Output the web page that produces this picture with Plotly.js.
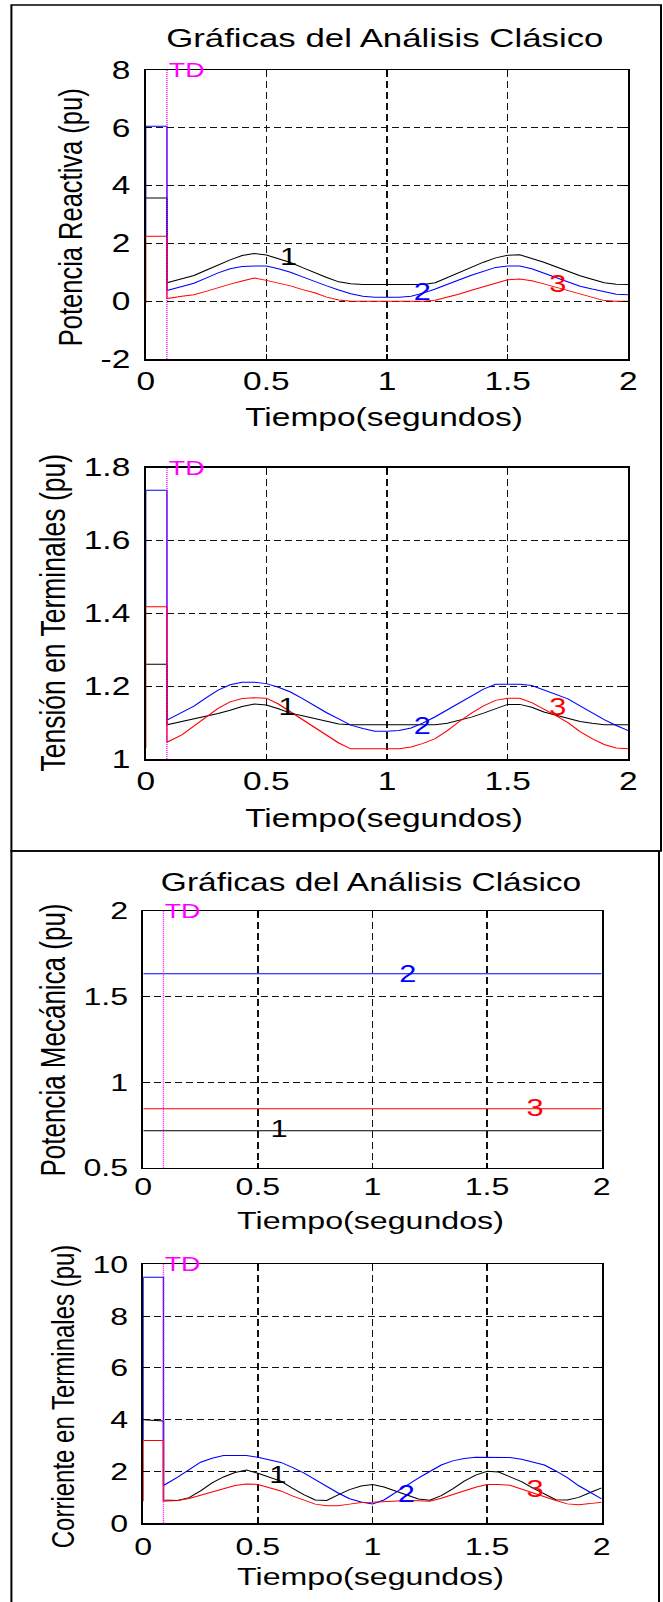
<!DOCTYPE html>
<html><head><meta charset="utf-8">
<script src="https://cdn.plot.ly/plotly-3.0.1.min.js"></script>
<style>
html,body{margin:0;padding:0;background:#fff;overflow:hidden;}
#wrap{width:663px;height:1602px;overflow:hidden;position:relative;}
#chart{width:495px;height:1602px;transform:scaleX(1.339394);transform-origin:0 0;}
</style></head><body><div id="wrap"><div id="chart"></div></div>
<script>
// ---- data ----
const tFault = 0.088;
const tPre = [0, 0, 0.088];
const tPost = [0.088,0.15,0.2,0.25,0.3,0.35,0.4,0.45,0.5,0.55,0.6,0.65,0.7,0.75,0.8,0.85,0.9,0.95,1.0,1.05,1.1,1.15,1.2,1.25,1.3,1.35,1.4,1.45,1.5,1.55,1.6,1.65,1.7,1.75,1.8,1.85,1.9,1.95,2.0];
const xTicks = [0, 0.5, 1, 1.5, 2];
const xTickText = ['0', '0.5', '1', '1.5', '2'];

// Potencia Reactiva
const qBlackPre = [3.57, 3.57, 3.57];
const qBluePre  = [2.25, 6.05, 6.05];
const qRedPre   = [-0.05, 2.25, 2.25];
const qBlackPost = [0.64,0.78,0.89,1.07,1.26,1.43,1.58,1.65,1.60,1.48,1.34,1.16,0.98,0.82,0.67,0.60,0.58,0.58,0.58,0.58,0.58,0.58,0.64,0.82,1.00,1.17,1.35,1.50,1.59,1.61,1.49,1.35,1.19,1.03,0.88,0.76,0.64,0.59,0.58];
const qBluePost  = [0.37,0.51,0.62,0.80,0.98,1.12,1.20,1.22,1.22,1.12,1.00,0.84,0.68,0.53,0.39,0.26,0.17,0.14,0.14,0.14,0.17,0.28,0.42,0.57,0.74,0.90,1.03,1.17,1.22,1.22,1.12,0.97,0.83,0.68,0.52,0.42,0.32,0.24,0.22];
const qRedPost   = [0.09,0.17,0.22,0.34,0.47,0.59,0.70,0.80,0.72,0.62,0.53,0.40,0.29,0.14,0.04,0.0,0.0,0.0,0.0,0.0,0.0,0.0,0.03,0.13,0.25,0.38,0.50,0.61,0.74,0.77,0.71,0.60,0.48,0.36,0.24,0.13,0.02,0.0,0.0];
const qTicks = [-2, 0, 2, 4, 6, 8];
const qTickText = ['-2', '0', '2', '4', '6', '8'];

// Tension en terminales
const vBlackPre = [1.26, 1.26, 1.26];
const vBluePre  = [1.418, 1.738, 1.738];
const vRedPre   = [1.03, 1.418, 1.418];
const vBlackPost = [1.094,1.103,1.110,1.119,1.125,1.134,1.144,1.151,1.148,1.138,1.126,1.119,1.111,1.104,1.096,1.094,1.094,1.094,1.094,1.094,1.094,1.094,1.094,1.098,1.106,1.115,1.126,1.137,1.150,1.150,1.142,1.129,1.120,1.110,1.103,1.098,1.094,1.094,1.094];
const vBluePost  = [1.107,1.128,1.145,1.168,1.189,1.204,1.211,1.211,1.207,1.197,1.184,1.166,1.146,1.127,1.110,1.093,1.084,1.076,1.076,1.078,1.085,1.099,1.116,1.135,1.155,1.174,1.192,1.205,1.205,1.205,1.202,1.190,1.178,1.165,1.146,1.127,1.108,1.092,1.078];
const vRedPost   = [1.046,1.066,1.090,1.116,1.139,1.157,1.166,1.168,1.167,1.151,1.130,1.109,1.087,1.065,1.044,1.028,1.028,1.028,1.028,1.028,1.033,1.043,1.056,1.078,1.103,1.126,1.146,1.161,1.167,1.167,1.155,1.138,1.119,1.100,1.075,1.056,1.040,1.030,1.028];
const vTicks = [1, 1.2, 1.4, 1.6, 1.8];
const vTickText = ['1', '1.2', '1.4', '1.6', '1.8'];

// Potencia mecanica
const pmTime  = [0, 2];
const pmBlack = [0.716, 0.716];
const pmBlue  = [1.634, 1.634];
const pmRed   = [0.844, 0.844];
const pmTicks = [0.5, 1, 1.5, 2];
const pmTickText = ['0.5', '1', '1.5', '2'];

// Corriente en terminales
const iBlackPre = [4.0, 4.0, 3.95];
const iBluePre  = [3.2, 9.5, 9.5];
const iRedPre   = [0.85, 3.2, 3.2];
const iBlackPost = [0.90,0.88,0.99,1.25,1.56,1.79,1.96,2.06,1.93,1.79,1.63,1.36,1.11,0.90,0.88,1.10,1.30,1.44,1.50,1.40,1.24,1.07,0.94,0.89,1.07,1.33,1.63,1.86,2.01,1.98,1.81,1.61,1.36,1.12,0.91,0.90,1.00,1.19,1.37];
const iBluePost  = [1.46,1.78,2.08,2.36,2.51,2.62,2.62,2.62,2.55,2.45,2.35,2.16,1.95,1.69,1.42,1.17,0.95,0.82,0.75,0.90,1.18,1.47,1.74,2.00,2.25,2.41,2.50,2.55,2.55,2.55,2.54,2.47,2.37,2.25,2.02,1.76,1.45,1.18,0.94];
const iRedPost   = [0.85,0.88,0.96,1.08,1.21,1.35,1.46,1.52,1.50,1.37,1.25,1.06,0.89,0.74,0.68,0.68,0.74,0.80,0.81,0.83,0.86,0.88,0.87,0.85,0.97,1.11,1.26,1.39,1.50,1.50,1.47,1.32,1.17,1.01,0.88,0.75,0.72,0.76,0.81];
const iTicks = [0, 2, 4, 6, 8, 10];
const iTickText = ['0', '2', '4', '6', '8', '10'];

// curve labels: [text, t, value]
const qLabels  = [['1', 0.59, 1.54], ['2', 1.15, 0.33], ['3', 1.71, 0.60]];
const vLabels  = [['1', 0.585, 1.144], ['2', 1.15, 1.091], ['3', 1.71, 1.144]];
const pmLabels = [['1', 0.594, 0.724], ['2', 1.152, 1.63], ['3', 1.712, 0.847]];
const iLabels  = [['1', 0.589, 1.86], ['2', 1.149, 1.13], ['3', 1.709, 1.31]];

const chartTitle = 'Gráficas del Análisis Clásico';
const xTitle = 'Tiempo(segundos)';
const yTitles = ['Potencia Reactiva (pu)', 'Tensión en Terminales (pu)', 'Potencia Mecánica (pu)', 'Corriente en Terminales (pu)'];

// ---- styling ----
const FONT = 'Liberation Sans, Arial, sans-serif';
const BLACK = '#000000', BLUE = '#0000ff', RED = '#ff0000', MAG = '#ff00ff';
const colorOf = {'1': BLACK, '2': BLUE, '3': RED};
const H = 1602, W = 663;

function line(x, y, color, ax) {
  return {x: x, y: y, mode: 'lines', type: 'scatter', line: {color: color, width: 1},
          xaxis: 'x' + ax, yaxis: 'y' + ax, hoverinfo: 'skip', showlegend: false};
}
const data = [
  line(tPre.concat(tPost), qBlackPre.concat(qBlackPost), BLACK, ''),
  line(tPre.concat(tPost), qBluePre.concat(qBluePost), BLUE, ''),
  line(tPre.concat(tPost), qRedPre.concat(qRedPost), RED, ''),
  line(tPre.concat(tPost), vBlackPre.concat(vBlackPost), BLACK, '2'),
  line(tPre.concat(tPost), vBluePre.concat(vBluePost), BLUE, '2'),
  line(tPre.concat(tPost), vRedPre.concat(vRedPost), RED, '2'),
  line(pmTime, pmBlack, BLACK, '3'),
  line(pmTime, pmBlue, BLUE, '3'),
  line(pmTime, pmRed, RED, '3'),
  line(tPre.concat(tPost), iBlackPre.concat(iBlackPost), BLACK, '4'),
  line(tPre.concat(tPost), iBluePre.concat(iBluePost), BLUE, '4'),
  line(tPre.concat(tPost), iRedPre.concat(iRedPost), RED, '4')
];

function xAxis(domain, anchor, fs, standoff) {
  return {domain: domain, anchor: anchor, range: [0, 2], tickvals: xTicks, ticktext: xTickText,
    showline: true, mirror: 'ticks', linecolor: BLACK, linewidth: 1.5,
    ticks: 'inside', ticklen: 5, tickcolor: BLACK, tickwidth: 1,
    showgrid: true, gridcolor: '#111', gridwidth: 1, griddash: '7px,4px', zeroline: false,
    tickfont: {family: FONT, size: fs, color: BLACK}, ticklabelstandoff: standoff, fixedrange: true};
}
function yAxis(domain, anchor, range, vals, text, fs) {
  return {domain: domain, anchor: anchor, range: range, tickvals: vals, ticktext: text,
    showline: true, mirror: 'ticks', linecolor: BLACK, linewidth: 1.5,
    ticks: 'inside', ticklen: 5, tickcolor: BLACK, tickwidth: 1,
    showgrid: true, gridcolor: '#111', gridwidth: 1, griddash: '5px,3px', zeroline: false,
    tickfont: {family: FONT, size: fs, color: BLACK}, ticklabelstandoff: 5, fixedrange: true};
}
const dx12 = [145.7 / W, 628.3 / W];
const dx34 = [143.3 / W, 601.7 / W];
function dy(top, bottom) { return [1 - bottom / H, 1 - top / H]; }

const annotations = [];
function txt(text, x, y, fs, color, extra) {
  annotations.push(Object.assign({text: text, x: x, y: y, xref: 'paper', yref: 'paper',
    xanchor: 'center', yanchor: 'middle', showarrow: false,
    font: {family: FONT, size: fs, color: color}}, extra || {}));
}
// titles
txt(chartTitle, 385 / W, 1 - 38 / H, 26, BLACK);
txt(chartTitle, 371 / W, 1 - 882 / H, 25, BLACK);
// x titles
txt(xTitle, 384 / W, 1 - 417 / H, 25, BLACK);
txt(xTitle, 384 / W, 1 - 818 / H, 25, BLACK);
txt(xTitle, 371 / W, 1 - 1220 / H, 24, BLACK);
txt(xTitle, 371 / W, 1 - 1576 / H, 24, BLACK);
// y titles
txt(yTitles[0], 70 / W, 1 - 217 / H, 25.5, BLACK, {textangle: -90});
txt(yTitles[1], 53 / W, 1 - 613 / H, 26.5, BLACK, {textangle: -90});
txt(yTitles[2], 53 / W, 1 - 1040 / H, 26, BLACK, {textangle: -90});
txt(yTitles[3], 62 / W, 1 - 1396 / H, 24, BLACK, {textangle: -90});

const shapes = [];
['', '2', '3', '4'].forEach(function (ax) {
  shapes.push({type: 'line', xref: 'x' + ax, yref: 'y' + (ax) + ' domain', x0: tFault, x1: tFault, y0: 0, y1: 1,
    line: {color: MAG, width: 1, dash: '1px,1px'}});
  annotations.push({text: 'TD', xref: 'x' + ax, yref: 'y' + ax + ' domain', x: tFault, y: 1,
    xanchor: 'left', yanchor: 'middle', showarrow: false, xshift: -1,
    font: {family: FONT, size: 20, color: MAG}});
});
[[qLabels, ''], [vLabels, '2'], [pmLabels, '3'], [iLabels, '4']].forEach(function (p) {
  p[0].forEach(function (l) {
    annotations.push({text: l[0], xref: 'x' + p[1], yref: 'y' + p[1], x: l[1], y: l[2],
      xanchor: 'center', yanchor: 'middle', showarrow: false,
      font: {family: FONT, size: 23, color: colorOf[l[0]]}});
  });
});
// frame boxes
shapes.push({type: 'rect', xref: 'paper', yref: 'paper', x0: 11.4 / W, x1: 661 / W, y0: 1 - 851 / H, y1: 1 - 5 / H,
  line: {color: BLACK, width: 1.5}, layer: 'above'});
shapes.push({type: 'rect', xref: 'paper', yref: 'paper', x0: 11.4 / W, x1: 659 / W, y0: -0.02, y1: 1 - 851 / H,
  line: {color: BLACK, width: 1.5}, layer: 'above'});

const layout = {
  width: 495, height: H, margin: {l: 0, r: 0, t: 0, b: 0}, paper_bgcolor: '#ffffff', plot_bgcolor: '#ffffff',
  font: {family: FONT, color: BLACK},
  xaxis: xAxis(dx12, 'y', 25, 0), xaxis2: xAxis(dx12, 'y2', 25, 0),
  xaxis3: xAxis(dx34, 'y3', 24, -3), xaxis4: xAxis(dx34, 'y4', 24, 1),
  yaxis: yAxis(dy(70, 359), 'x', [-2, 8], qTicks, qTickText, 25),
  yaxis2: yAxis(dy(467.7, 759), 'x2', [1, 1.8], vTicks, vTickText, 25),
  yaxis3: yAxis(dy(911, 1167.7), 'x3', [0.5, 2], pmTicks, pmTickText, 24),
  yaxis4: yAxis(dy(1264.3, 1523.3), 'x4', [0, 10], iTicks, iTickText, 24),
  annotations: annotations, shapes: shapes, showlegend: false
};
Plotly.newPlot('chart', data, layout, {staticPlot: true, displayModeBar: false});
</script></body></html>
